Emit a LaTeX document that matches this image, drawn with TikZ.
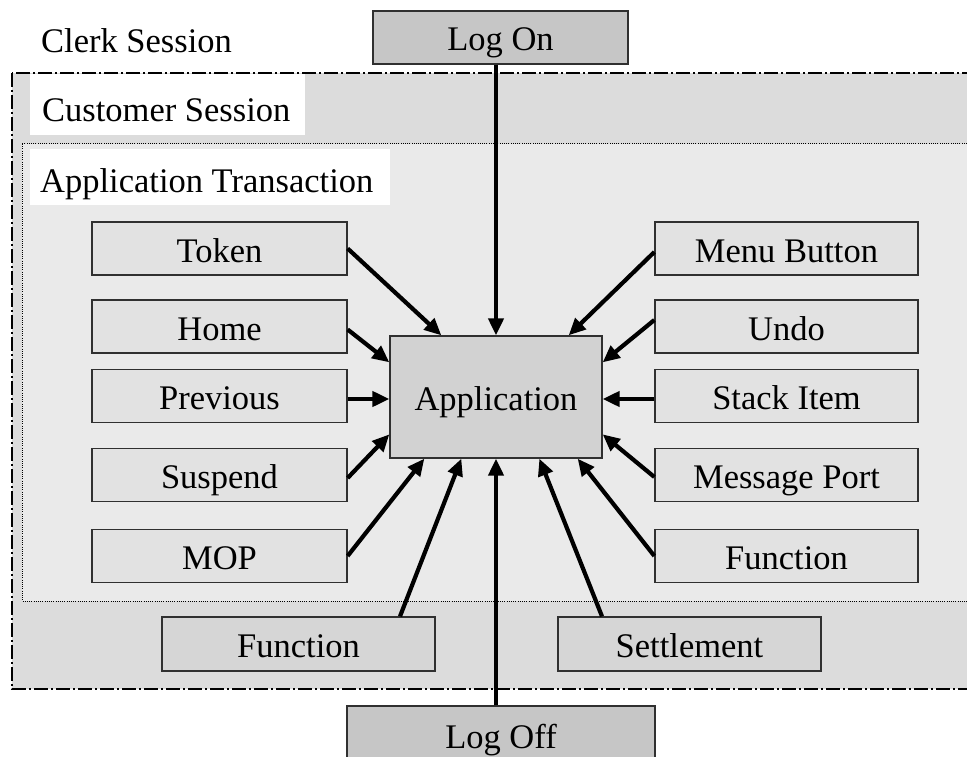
\documentclass[tikz,border=0pt]{standalone}
\usepackage{fontspec}
\setmainfont{Liberation Serif}
\usetikzlibrary{arrows.meta,calc}

\definecolor{outerbg}{HTML}{DCDCDC}
\definecolor{innerbg}{HTML}{EAEAEA}
\definecolor{lightbox}{HTML}{E2E2E2}
\definecolor{darkbox}{HTML}{C6C6C6}
\definecolor{appbox}{HTML}{D2D2D2}
\definecolor{midbox}{HTML}{D6D6D6}
\definecolor{edge}{HTML}{303030}

\tikzset{
  lbl/.style={font=\fontsize{34.5}{40}\selectfont, inner sep=0pt},
  boxbase/.style={draw=edge, line width=1.3pt, inner sep=0pt,
    font=\fontsize{34.5}{40}\selectfont, text height=31pt, text depth=4pt},
  sidebox/.style={boxbase, fill=lightbox, minimum height=53pt},
  leftbox/.style={sidebox, minimum width=255pt},
  rightbox/.style={sidebox, minimum width=263pt},
  termbox/.style={boxbase, fill=darkbox},
  flowbox/.style={boxbase, fill=midbox, minimum height=54pt},
  feed/.style={line width=4.2pt, -{Triangle[length=17pt,width=15pt]}},
}

\begin{document}
\begin{tikzpicture}[x=1pt,y=-1pt]
  \useasboundingbox (0,0) rectangle (967,757);
  \clip (0,0) rectangle (967,757);

  % session frames
  \draw[fill=outerbg, line width=1.3pt,
        dash pattern=on 14pt off 3pt on 2pt off 3pt]
    (12,73) rectangle (1000,689);
  \draw[fill=innerbg, line width=1pt, dash pattern=on 1pt off 1.2pt]
    (22,144) rectangle (1000,601);
  \fill[white] (30,74.5) rectangle (305,135);
  \fill[white] (30,149) rectangle (390,205);

  % frame titles
  \node[lbl, anchor=base west] (clerk) at (41,53) {Clerk Session};
  \node[lbl, anchor=base west] (cust) at (42,122) {Customer Session};
  \node[lbl, anchor=base west] (txn) at (40,193) {Application Transaction};

  % central component
  \node[boxbase, fill=appbox, minimum width=212pt, minimum height=122pt]
    (app) at (496,397) {Application};

  % session start and end
  \node[termbox, minimum width=255pt, minimum height=53pt]
    (logon) at (500.5,37.5) {Log On};
  \node[termbox, minimum width=308pt, minimum height=58pt]
    (logoff) at (501,735) {Log Off};

  % left column
  \node[leftbox] (tok)  at (219.5,248.5) {Token};
  \node[leftbox] (home) at (219.5,326.5) {Home};
  \node[leftbox] (prev) at (219.5,396)   {Previous};
  \node[leftbox] (susp) at (219.5,475)   {Suspend};
  \node[leftbox] (mop)  at (219.5,556)   {MOP};

  % right column
  \node[rightbox] (menu)  at (786.5,248.5) {Menu Button};
  \node[rightbox] (undo)  at (786.5,326.5) {Undo};
  \node[rightbox] (stack) at (786.5,396)   {Stack Item};
  \node[rightbox] (msg)   at (786.5,475)   {Message Port};
  \node[rightbox] (funcr) at (786.5,556)   {Function};

  % customer-session level
  \node[flowbox, minimum width=273pt] (funcb)  at (298.5,644) {Function};
  \node[flowbox, minimum width=263pt] (settle) at (689.5,644) {Settlement};

  % connectors into the application
  \draw[feed] (app.north |- logon.south) -- (app.north);
  \draw[feed] (app.south |- logoff.north) -- (app.south);

  \draw[feed] (tok.east) -- ($(app.north west)+(52,0)$);
  \draw[feed] ($(home.east)+(0,3)$) -- ($(app.north west)+(0,27)$);
  \draw[feed] ($(prev.east)+(0,3)$) -- ($(app.west)+(0,2)$);
  \draw[feed] ($(susp.east)+(0,3)$) -- ($(app.north west)+(0,99)$);
  \draw[feed] (mop.east) -- ($(app.south west)+(35,0)$);
  \draw[feed] ($(funcb.north)+(101.5,0)$) -- ($(app.south west)+(72,0)$);

  \draw[feed] ($(menu.west)+(0,3.5)$) -- ($(app.north east)+(-34,0)$);
  \draw[feed] ($(undo.west)+(0,-6.5)$) -- ($(app.north east)+(0,27)$);
  \draw[feed] ($(stack.west)+(0,3)$) -- ($(app.east)+(0,2)$);
  \draw[feed] ($(msg.west)+(0,2)$) -- ($(app.north east)+(0,99)$);
  \draw[feed] (funcr.west) -- ($(app.south east)+(-25,0)$);
  \draw[feed] ($(settle.north)+(-87.5,0)$) -- ($(app.south west)+(150,0)$);
\end{tikzpicture}
\end{document}
